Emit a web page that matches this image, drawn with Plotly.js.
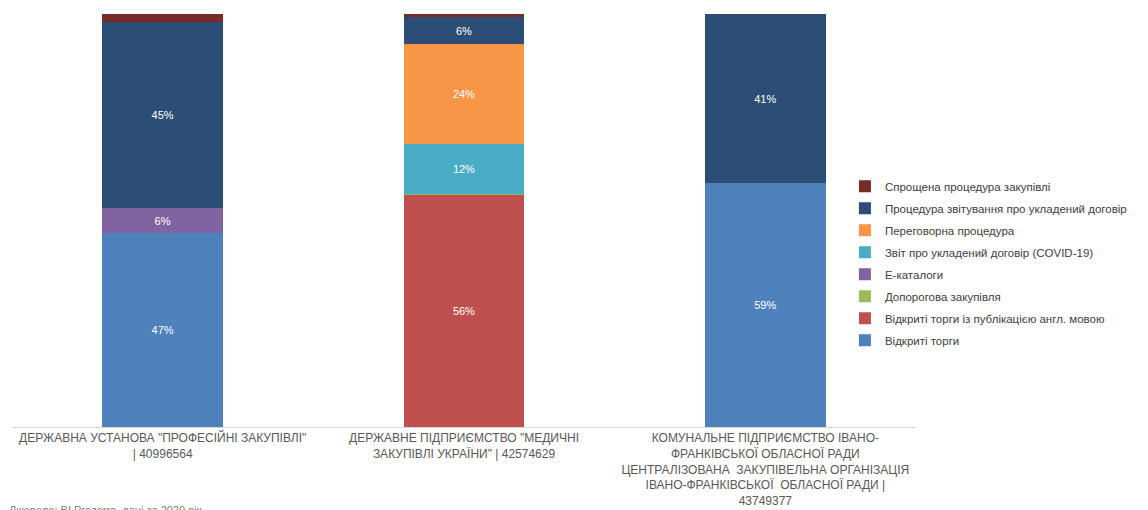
<!DOCTYPE html>
<html>
<head>
<meta charset="utf-8">
<script src="https://cdn.plot.ly/plotly-3.0.1.min.js"></script>
<style>
  html, body { margin: 0; padding: 0; background: #fff; }
  #chart { width: 1148px; height: 510px; }
</style>
</head>
<body>
<div id="chart"></div>
<script>
// Buyers (category axis)
const buyers = [
  'ДЕРЖАВНА УСТАНОВА "ПРОФЕСІЙНІ ЗАКУПІВЛІ"<br>| 40996564',
  'ДЕРЖАВНЕ ПІДПРИЄМСТВО "МЕДИЧНІ<br>ЗАКУПІВЛІ УКРАЇНИ" | 42574629',
  'КОМУНАЛЬНЕ ПІДПРИЄМСТВО ІВАНО-<br>ФРАНКІВСЬКОЇ ОБЛАСНОЇ РАДИ<br>ЦЕНТРАЛІЗОВАНА  ЗАКУПІВЕЛЬНА ОРГАНІЗАЦІЯ<br>ІВАНО-ФРАНКІВСЬКОЇ  ОБЛАСНОЇ РАДИ |<br>43749377'
];

// Share of procurement by procedure type, % (bottom to top in each stack)
const vidkrytiTorgy        = [47, 0, 59];
const vidkrytiAngl         = [0, 56.2, 0];
const doporogova           = [0, 0.3, 0];
const eKatalogy            = [6, 0, 0];
const zvitCovid            = [0, 12.1, 0];
const peregovorna          = [0, 24.2, 0];
const proceduraZvituvannya = [45, 6.4, 41];
const sproshchena          = [2, 0.8, 0];

const seriesNames = [
  'Відкриті торги',
  'Відкриті торги із публікацією англ. мовою',
  'Допорогова закупівля',
  'Е-каталоги',
  'Звіт про укладений договір (COVID-19)',
  'Переговорна процедура',
  'Процедура звітування про укладений договір',
  'Спрощена процедура закупівлі'
];
const seriesValues = [
  vidkrytiTorgy, vidkrytiAngl, doporogova, eKatalogy,
  zvitCovid, peregovorna, proceduraZvituvannya, sproshchena
];
const seriesColors = [
  '#4F81BD', '#C0504D', '#9BBB59', '#8064A2',
  '#4BACC6', '#F79646', '#2C4D75', '#772C2A'
];
// segments too thin to carry a label stay unlabeled
const showLabel = [true, true, false, true, true, true, true, false];

const traces = seriesNames.map((name, i) => ({
  type: 'bar',
  name: name,
  x: buyers,
  y: seriesValues[i],
  legendgroup: 'g' + i,
  legendrank: 1000 - i,
  marker: { color: seriesColors[i], line: { width: 0 } },
  texttemplate: seriesValues[i].map(v => (showLabel[i] && v > 0) ? '%{y:.0f}%' : ''),
  textposition: 'inside',
  insidetextanchor: 'middle',
  textangle: 0,
  textfont: { family: 'Liberation Sans, Arial, sans-serif', size: 11, color: '#ffffff' },
  hoverinfo: 'name+y'
}));

const layout = {
  width: 1148,
  height: 510,
  barmode: 'stack',
  bargap: 0.6,
  margin: { l: 12, r: 232, t: 14, b: 83, autoexpand: false },
  paper_bgcolor: '#ffffff',
  plot_bgcolor: '#ffffff',
  font: { family: 'Liberation Sans, Arial, sans-serif', color: '#595959' },
  xaxis: {
    showgrid: false,
    showline: true,
    linecolor: '#D9D9D9',
    linewidth: 1,
    ticks: '',
    tickangle: 0,
    tickfont: { size: 12, color: '#595959' },
    fixedrange: true
  },
  yaxis: {
    range: [0, 100],
    showgrid: false,
    showline: false,
    zeroline: false,
    showticklabels: false,
    ticks: '',
    fixedrange: true
  },
  showlegend: true,
  legend: {
    traceorder: 'grouped',
    tracegroupgap: 3,
    xref: 'container',
    yref: 'container',
    x: 0.736,
    xanchor: 'left',
    y: 0.484,
    yanchor: 'middle',
    font: { size: 11.5, color: '#404040' },
    itemwidth: 30,
    bgcolor: 'rgba(0,0,0,0)'
  },
  annotations: [{
    text: 'Джерело: BI Prozorro, дані за 2020 рік',
    xref: 'paper', yref: 'paper',
    x: -0.005, y: -0.182,
    xanchor: 'left', yanchor: 'top',
    showarrow: false,
    font: { size: 11, color: '#7F7F7F' }
  }]
};

Plotly.newPlot('chart', traces, layout, { displayModeBar: false });
</script>
</body>
</html>
